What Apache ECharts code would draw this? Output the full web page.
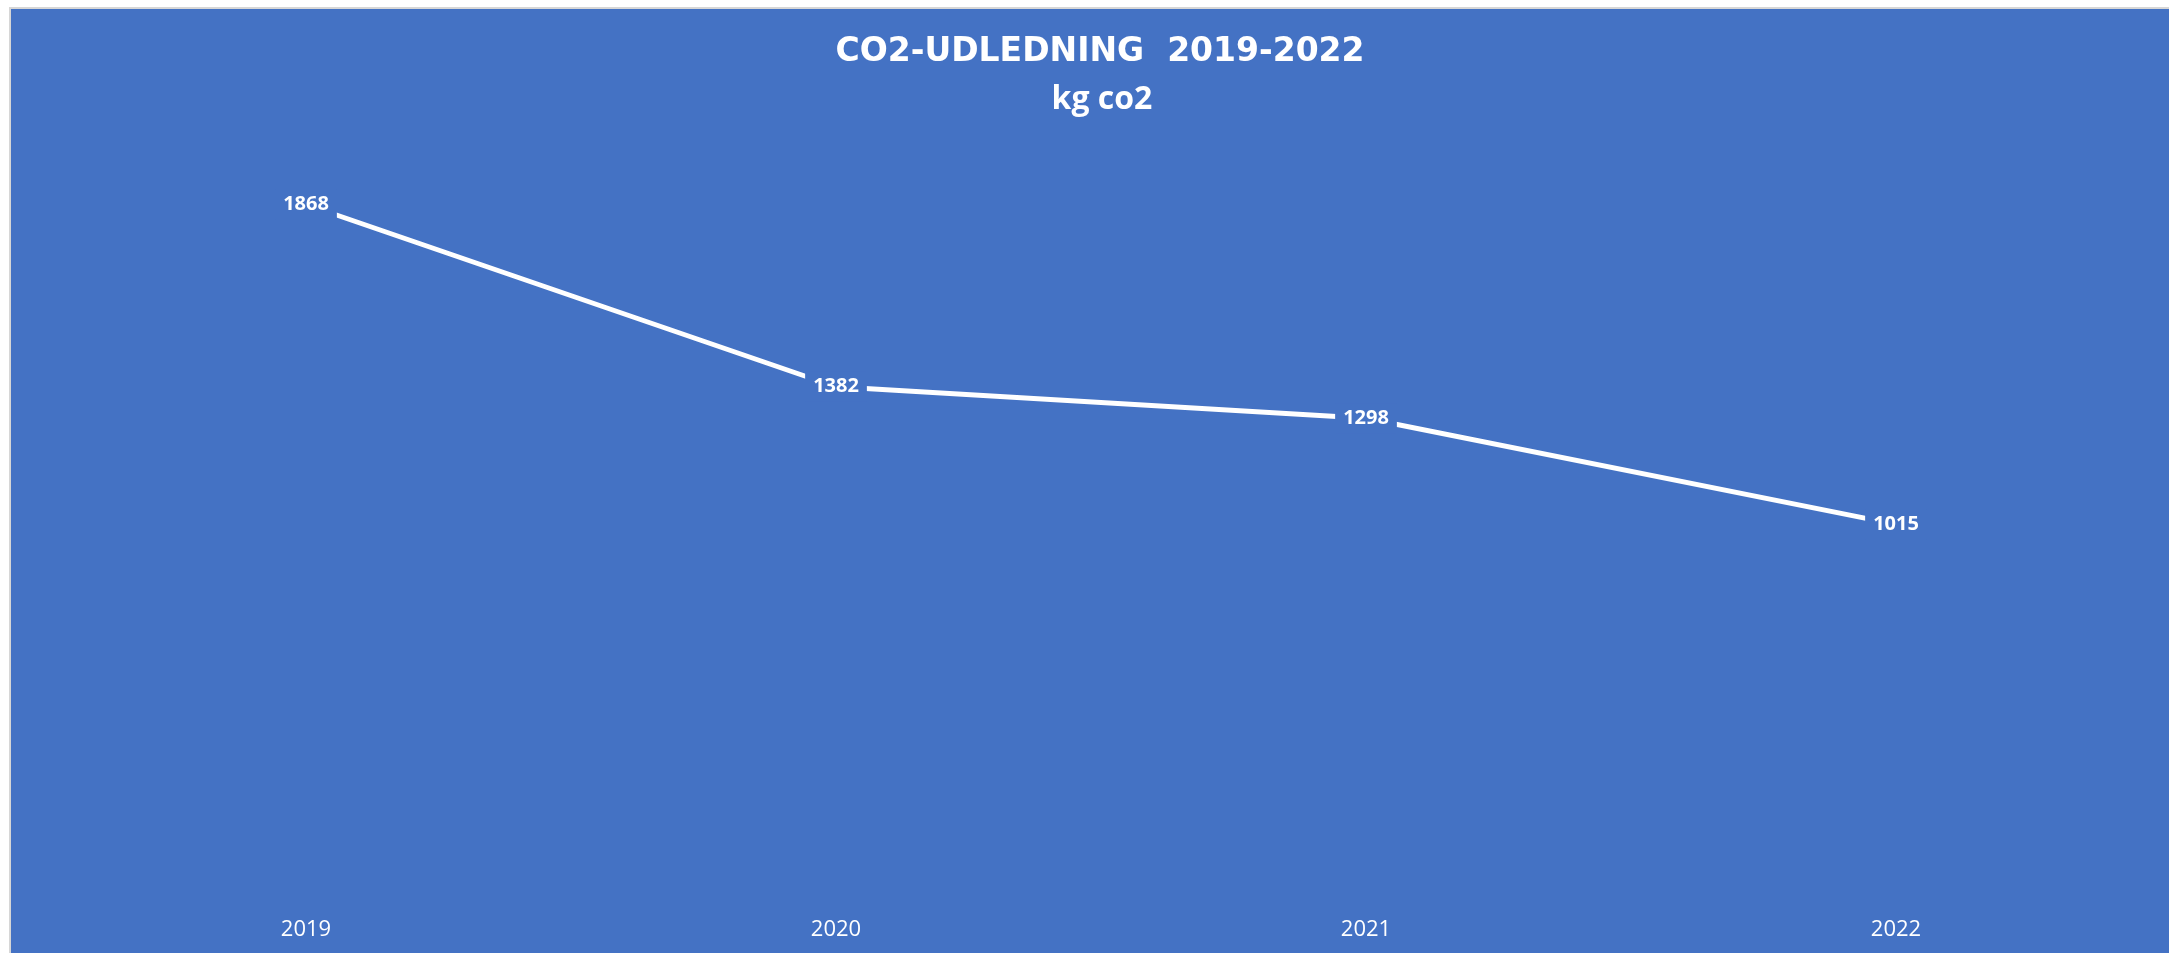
<!DOCTYPE html>
<html>
<head>
<meta charset="utf-8">
<script src="https://cdn.jsdelivr.net/npm/echarts@6/dist/echarts.min.js"></script>
<style>
  html, body { margin: 0; padding: 0; background: #ffffff; overflow: hidden; }
  #chart {
    position: absolute; left: 9px; top: 7px;
    width: 2160px; height: 946px;
    border-left: 2px solid #d6d6d6; border-top: 2px solid #d6d6d6;
  }
</style>
</head>
<body>
<div id="chart"></div>
<script>
// data
const years = ['2019', '2020', '2021', '2022'];
const co2Kg = [1868, 1382, 1298, 1015];
const titleText = 'CO2-UDLEDNING  2019-2022';
const subTitleText = 'kg co2';

const bg = '#4472C4';
const chart = echarts.init(document.getElementById('chart'));

chart.setOption({
    backgroundColor: bg,
    animation: false,
    title: [
        {
            text: titleText,
            left: 1089, top: 24, textAlign: 'center', padding: 0,
            textStyle: { color: '#fff', fontFamily: 'DejaVu Sans', fontWeight: 'bold', fontSize: 33, lineHeight: 38 }
        },
        {
            text: subTitleText,
            left: 1091, top: 72, textAlign: 'center', padding: 0,
            textStyle: { color: '#fff', fontFamily: 'Open Sans', fontWeight: 'bold', fontSize: 32, lineHeight: 38 }
        }
    ],
    grid: { left: 30, right: 10, top: 146, bottom: 50 },
    xAxis: {
        type: 'category',
        data: years,
        boundaryGap: true,
        axisLine: { show: false },
        axisTick: { show: false },
        axisLabel: { color: '#fff', fontFamily: 'Open Sans', fontSize: 22, margin: 14 }
    },
    yAxis: {
        type: 'value',
        min: 0, max: 2000,
        show: false,
        splitLine: { show: false }
    },
    series: [{
        type: 'line',
        data: co2Kg,
        showSymbol: true,
        symbol: 'circle',
        symbolSize: 1,
        itemStyle: { color: '#fff' },
        lineStyle: { color: '#fff', width: 5 },
        label: {
            show: true,
            position: 'inside',
            color: '#fff',
            fontFamily: 'Open Sans',
            fontWeight: 'bold',
            fontSize: 20,
            backgroundColor: bg,
            padding: [5, 8]
        }
    }]
});
</script>
</body>
</html>
